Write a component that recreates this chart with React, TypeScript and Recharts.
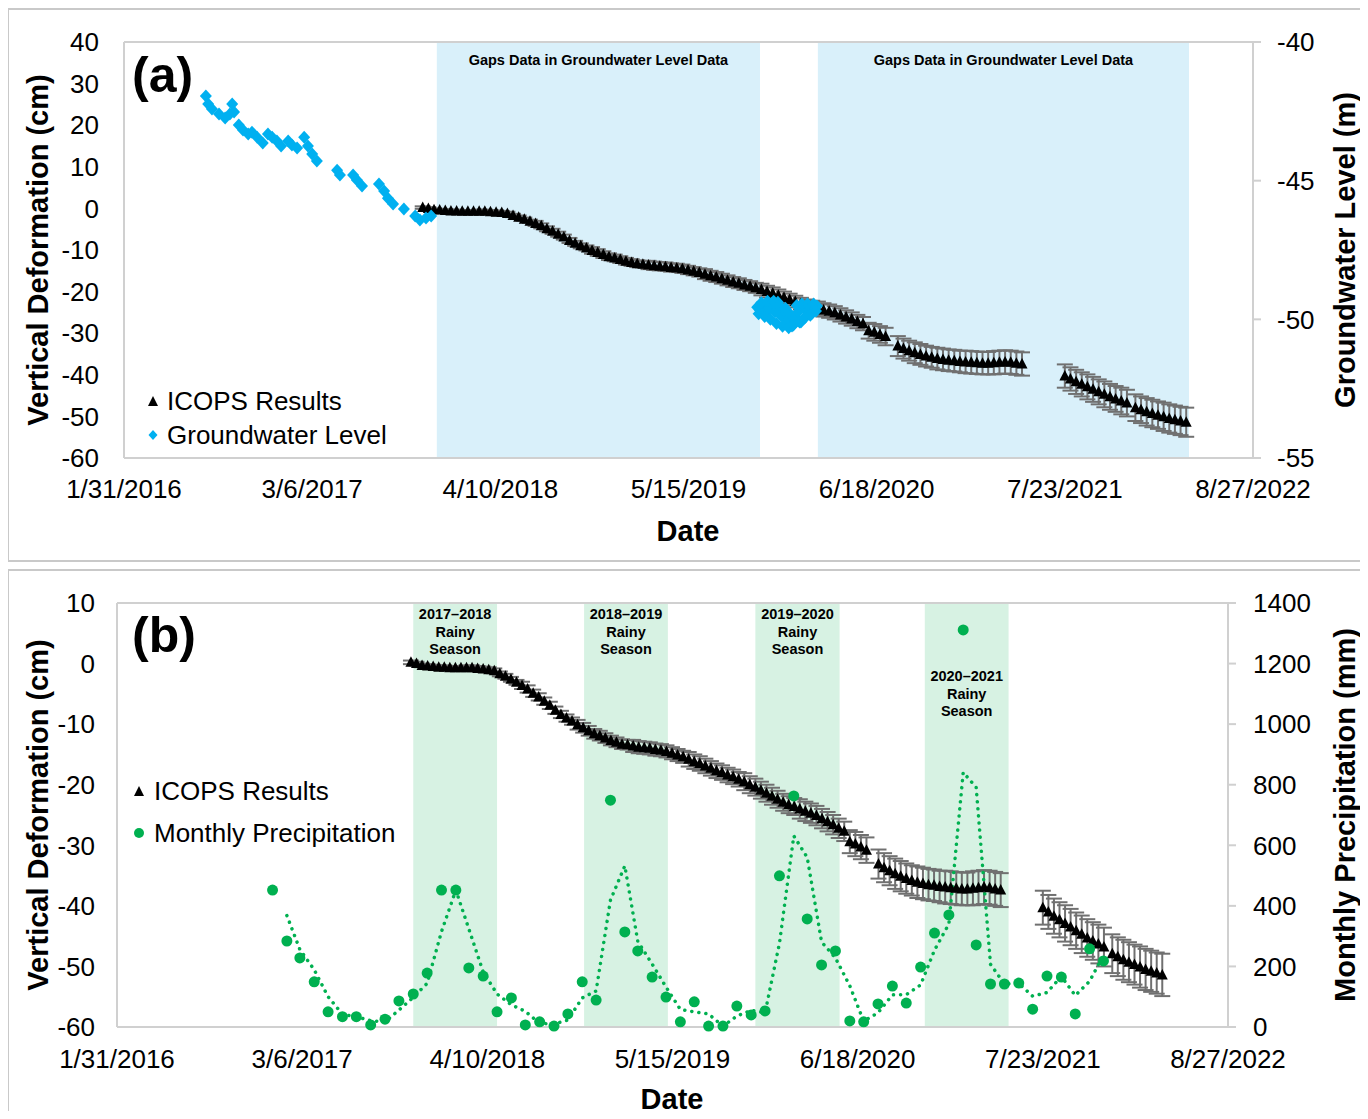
import React from 'react';
import {
  ComposedChart,
  Scatter,
  Line,
  XAxis,
  YAxis,
  ErrorBar,
  ReferenceArea,
  ReferenceLine,
  Legend,
} from 'recharts';

const FONT = '"Liberation Sans", Arial, Helvetica, sans-serif';

// date axis labels (Excel date axis, 400-day major unit)
const dateTickLabels = ['1/31/2016', '3/6/2017', '4/10/2018', '5/15/2019', '6/18/2020', '7/23/2021', '8/27/2022'];

// ICOPS vertical deformation (cm) - 12-day acquisitions, five runs of images
const icopsRevisitDays = 12;
const icopsRunStarts = ['2017-10-27', '2020-06-01', '2020-08-02', '2021-07-23', '2021-12-20'];
const icopsDeformation = [
  [
    0.2, 0.0, -0.3, -0.4, -0.5, -0.6, -0.6, -0.7, -0.7, -0.7,
    -0.7, -0.7, -0.8, -0.9, -1.0, -1.2, -1.7, -2.1, -2.6, -3.1,
    -3.6, -4.2, -4.9, -5.5, -6.2, -6.9, -7.7, -8.4, -9.0, -9.5,
    -10.1, -10.6, -11.1, -11.6, -11.9, -12.3, -12.7, -13.0, -13.3, -13.4,
    -13.6, -13.8, -13.9, -14.0, -14.2, -14.3, -14.5, -14.8, -15.1, -15.4,
    -15.8, -16.2, -16.5, -16.9, -17.3, -17.7, -18.0, -18.4, -18.7, -19.1,
    -19.5, -20.0, -20.4, -20.9, -21.4, -21.9, -22.4, -22.9, -23.3, -23.6,
    -24.0, -24.4, -24.7, -25.1, -25.6, -26.1, -26.6, -27.2, -27.7,
  ],
  [-29.4, -29.8, -30.3, -30.8],
  [
    -33.1, -33.7, -34.2, -34.7, -35.1, -35.5, -35.8, -36.1, -36.3, -36.5, -36.6, -36.8,
    -36.9, -37.0, -37.1, -37.2, -37.2, -37.1, -37.0, -36.9, -37.0, -37.2, -37.4,
  ],
  [-40.3, -41.0, -41.7, -42.3, -42.9, -43.5, -44.1, -44.7, -45.3, -45.8, -46.3, -46.8],
  [-47.9, -48.4, -48.9, -49.3, -49.7, -50.1, -50.5, -50.8, -51.1, -51.4],
];
const icopsError = [
  [
    0.3, 0.3, 0.3, 0.3, 0.3, 0.3, 0.3, 0.3, 0.3, 0.3,
    0.4, 0.4, 0.4, 0.4, 0.4, 0.4, 0.4, 0.4, 0.4, 0.4,
    0.6, 0.6, 0.6, 0.6, 0.6, 0.6, 0.6, 0.6, 0.6, 0.6,
    0.8, 0.8, 0.8, 0.8, 0.8, 0.8, 0.8, 0.8, 0.8, 0.8,
    1.0, 1.0, 1.0, 1.0, 1.0, 1.0, 1.0, 1.0, 1.0, 1.0,
    1.2, 1.2, 1.2, 1.2, 1.2, 1.2, 1.2, 1.2, 1.2, 1.2,
    1.4, 1.4, 1.4, 1.4, 1.4, 1.4, 1.4, 1.4, 1.4, 1.4,
    1.6, 1.6, 1.6, 1.6, 1.6, 1.6, 1.6, 1.6, 1.6,
  ],
  [1.9, 2.0, 2.0, 2.1],
  [
    2.4, 2.4, 2.4, 2.5, 2.5, 2.5, 2.5, 2.6, 2.6, 2.6, 2.6, 2.6,
    2.7, 2.7, 2.7, 2.7, 2.7, 2.8, 2.8, 2.8, 2.8, 2.8, 2.8,
  ],
  [2.8, 2.8, 2.9, 2.9, 3.0, 3.0, 3.0, 3.1, 3.1, 3.1, 3.2, 3.2],
  [3.2, 3.2, 3.3, 3.3, 3.3, 3.4, 3.4, 3.4, 3.4, 3.5],
];

// groundwater level (m)
const gwDates = [
  '2016-07-23', '2016-07-28', '2016-08-05', '2016-08-20', '2016-09-02', '2016-09-12', '2016-09-17',
  '2016-09-21', '2016-10-01', '2016-10-10', '2016-10-21', '2016-10-29', '2016-11-09', '2016-11-21',
  '2016-12-02', '2016-12-11', '2016-12-21', '2016-12-30', '2017-01-14', '2017-01-22', '2017-02-02',
  '2017-02-17', '2017-02-25', '2017-03-06', '2017-03-16', '2017-04-28', '2017-05-04', '2017-06-01',
  '2017-06-09', '2017-06-20', '2017-07-26', '2017-08-06', '2017-08-14', '2017-08-25', '2017-09-17',
  '2017-10-11', '2017-10-21', '2017-11-03', '2017-11-14',
  '2019-10-08', '2019-10-14', '2019-10-20', '2019-10-27', '2019-11-02', '2019-11-09', '2019-11-15',
  '2019-11-21', '2019-11-28', '2019-12-04', '2019-12-11', '2019-12-17', '2019-12-21', '2019-12-28',
  '2020-01-03', '2020-01-09', '2020-01-14', '2020-01-20', '2020-01-26', '2020-02-02', '2020-02-08',
  '2020-02-12',
  '2019-10-11', '2019-10-17', '2019-10-24', '2019-10-30', '2019-11-05', '2019-11-12', '2019-11-18',
  '2019-11-24', '2019-12-01', '2019-12-07', '2019-12-14', '2019-12-24', '2019-12-31', '2020-01-06',
  '2020-01-11', '2020-01-17', '2020-01-23', '2020-01-29', '2020-02-05', '2020-02-10',
];
const gwLevel = [
  -41.95, -42.24, -42.42, -42.6, -42.74, -42.6, -42.24,
  -42.52, -42.99, -43.17, -43.32, -43.25, -43.43, -43.64,
  -43.32, -43.43, -43.57, -43.75, -43.57, -43.71, -43.82,
  -43.43, -43.75, -44.04, -44.29, -44.62, -44.8, -44.8,
  -44.98, -45.19, -45.12, -45.37, -45.63, -45.84, -46.02,
  -46.27, -46.42, -46.35, -46.27,
  -49.56, -49.66, -49.48, -49.74, -49.59, -49.41, -49.74,
  -49.38, -49.88, -49.66, -50.03, -49.81, -50.24, -49.95,
  -49.74, -50.1, -49.56, -49.88, -49.66, -49.77, -49.59,
  -49.52,
  -49.8, -49.4, -49.9, -49.35, -50.0, -49.35, -50.15,
  -49.5, -50.25, -49.6, -50.3, -50.2, -49.5, -50.1,
  -49.45, -49.95, -49.45, -49.85, -49.45, -49.7,
];

// monthly precipitation (mm), Jan..Dec
const precipYears = [2017, 2018, 2019, 2020, 2021];
const precipMonthly = [
  [452, 284, 228, 149, 50, 34, 34, 7, 26, 86, 109, 178],
  [452, 452, 195, 168, 50, 96, 7, 17, 3, 43, 149, 89],
  [749, 314, 251, 165, 99, 17, 83, 3, 3, 69, 40, 53],
  [499, 763, 357, 205, 251, 20, 17, 76, 135, 79, 198, 310],
  [370, 1311, 271, 142, 142, 145, 59, 168, 165, 43, 258, 218],
];
// dotted moving-average trendline (mm), from Feb 2017
const precipTrend = [
  [368, 256, 189, 100, 42, 34, 21, 17, 56, 98, 144],
  [315, 452, 324, 182, 109, 73, 52, 12, 10, 23, 96, 119],
  [419, 532, 283, 208, 132, 58, 50, 43, 3, 36, 55, 47],
  [276, 631, 560, 281, 228, 136, 19, 47, 106, 107, 139, 254],
  [340, 841, 791, 207, 142, 144, 102, 114, 167, 104, 151, 238],
];

const gapBands = [['2017-11-26', '2019-10-14'], ['2020-02-14', '2022-04-13']];
const rainyBands = [
  ['2017-11-01', '2018-05-01'],
  ['2018-11-05', '2019-05-05'],
  ['2019-11-10', '2020-05-10'],
  ['2020-11-10', '2021-05-10'],
];
const rainyLabels = ['2017–2018', '2018–2019', '2019–2020', '2020–2021'];

const DAY = 86400000;
const isoToT = (s: string) => {
  const [y, m, d] = s.split('-').map(Number);
  return Date.UTC(y, m - 1, d);
};
const usToT = (s: string) => {
  const [m, d, y] = s.split('/').map(Number);
  return Date.UTC(y, m - 1, d);
};
const fmtDate = (t: number) => {
  const d = new Date(t);
  return `${d.getUTCMonth() + 1}/${d.getUTCDate()}/${d.getUTCFullYear()}`;
};

const xTicks = dateTickLabels.map(usToT);
const xDomain = [xTicks[0], xTicks[xTicks.length - 1]];

const icopsData = icopsRunStarts.flatMap((start, r) =>
  icopsDeformation[r].map((v, i) => ({
    t: isoToT(start) + i * icopsRevisitDays * DAY,
    v,
    err: icopsError[r][i],
  }))
);
const gwData = gwDates.map((d, i) => ({ t: isoToT(d), v: gwLevel[i] }));
const precipData = precipYears.flatMap((y, r) =>
  precipMonthly[r].map((v, m) => ({ t: Date.UTC(y, m, 1), v }))
);
const trendData = precipYears.flatMap((y, r) => {
  const first = 12 - precipTrend[r].length;
  return precipTrend[r].map((v, i) => ({ t: Date.UTC(y, first + i, 1), v }));
});

const TRI = '#000000';
const GW = '#00B0F0';
const RAIN = '#00B050';
const FRAME = '#d0d0d0';
const tickStyle = { fill: '#000', fontSize: 26, fontFamily: FONT };

function TriangleMark(p: any) {
  const { cx, cy } = p;
  if (cx == null || cy == null) return null;
  return <polygon points={`${cx},${cy - 6} ${cx - 5.5},${cy + 4.5} ${cx + 5.5},${cy + 4.5}`} fill={TRI} />;
}
function DiamondMark(p: any) {
  const { cx, cy } = p;
  if (cx == null || cy == null) return null;
  return <polygon points={`${cx},${cy - 6.5} ${cx + 6},${cy} ${cx},${cy + 6.5} ${cx - 6},${cy}`} fill={GW} />;
}
function CircleMark(p: any) {
  const { cx, cy } = p;
  if (cx == null || cy == null) return null;
  return <circle cx={cx} cy={cy} r={5.5} fill={RAIN} />;
}

function LegendMarker({ type }: { type: string }) {
  if (type === 'triangle') return <polygon points="7,2 2,12 12,12" fill={TRI} />;
  if (type === 'diamond') return <polygon points="7,2 11.5,7 7,12 2.5,7" fill={GW} />;
  return <circle cx={7} cy={7} r={5} fill={RAIN} />;
}

function LegendBox(props: any) {
  const { payload = [], rowHeight, gap, order = [] } = props;
  const items = payload
    .filter((p: any) => p.type !== 'none')
    .sort((a: any, b: any) => order.indexOf(a.value) - order.indexOf(b.value));
  return (
    <div style={{ fontFamily: FONT, fontSize: 26, color: '#000', lineHeight: 1 }}>
      {items.map((p: any) => (
        <div key={p.value} style={{ display: 'flex', alignItems: 'center', height: rowHeight, whiteSpace: 'nowrap' }}>
          <svg width={14} height={14}>
            <LegendMarker type={p.type} />
          </svg>
          <span style={{ marginLeft: gap }}>{p.value}</span>
        </div>
      ))}
    </div>
  );
}

function BandLabel(props: any) {
  const { viewBox, lines, topPad } = props;
  if (!viewBox) return null;
  const cx = viewBox.x + viewBox.width / 2;
  return (
    <text x={cx} y={viewBox.y + topPad} textAnchor="middle" fontFamily={FONT} fontWeight="bold" fontSize={14.5} fill="#000">
      {lines.map((l: string, i: number) => (
        <tspan key={i} x={cx} dy={i === 0 ? 0 : 17.5}>
          {l}
        </tspan>
      ))}
    </text>
  );
}

function Titles({ w, h, panel, left, right, leftX, rightX, midY, dateX, dateY }: any) {
  const bold = { fontFamily: FONT, fontWeight: 'bold' as const, fill: '#000' };
  return (
    <svg width={w} height={h} style={{ position: 'absolute', left: 0, top: 0, pointerEvents: 'none' }}>
      <text x={124} y={84} fontSize={50} {...bold}>
        {panel}
      </text>
      <text transform={`translate(${leftX},${midY}) rotate(-90)`} textAnchor="middle" dominantBaseline="central" fontSize={29} {...bold}>
        {left}
      </text>
      <text transform={`translate(${rightX},${midY}) rotate(-90)`} textAnchor="middle" dominantBaseline="central" fontSize={29} {...bold}>
        {right}
      </text>
      <text x={dateX} y={dateY} textAnchor="middle" fontSize={29} {...bold}>
        Date
      </text>
    </svg>
  );
}

function PanelA() {
  const W = 1360;
  const H = 560;
  return (
    <div style={{ position: 'relative', width: W, height: H }}>
      <ComposedChart width={W} height={H} margin={{ top: 34, right: 0, bottom: 70, left: 0 }}>
        {gapBands.map(([a, b], i) => (
          <ReferenceArea
            key={i}
            yAxisId="left"
            x1={isoToT(a)}
            x2={isoToT(b)}
            fill="#d9f0fa"
            fillOpacity={1}
            stroke="none"
            ifOverflow="visible"
            label={<BandLabel lines={['Gaps Data in Groundwater Level Data']} topPad={23} />}
          />
        ))}
        <XAxis
          type="number"
          dataKey="t"
          domain={xDomain}
          ticks={xTicks}
          interval={0}
          tickFormatter={fmtDate}
          allowDataOverflow
          height={40}
          tickLine={false}
          tickSize={0}
          tickMargin={22}
          axisLine={{ stroke: FRAME, strokeWidth: 2 }}
          tick={tickStyle}
        />
        <YAxis
          yAxisId="left"
          domain={[-60, 40]}
          ticks={[-60, -50, -40, -30, -20, -10, 0, 10, 20, 30, 40]}
          interval={0}
          width={116}
          tickLine={false}
          tickSize={0}
          tickMargin={25}
          axisLine={{ stroke: FRAME, strokeWidth: 2 }}
          tick={tickStyle}
        />
        <YAxis
          yAxisId="right"
          orientation="right"
          domain={[-55, -40]}
          ticks={[-55, -50, -45, -40]}
          interval={0}
          width={115}
          tickSize={8}
          tickMargin={16}
          tickLine={{ stroke: FRAME, strokeWidth: 2 }}
          axisLine={{ stroke: FRAME, strokeWidth: 2 }}
          tick={tickStyle}
        />
        <ReferenceLine yAxisId="left" y={40} stroke={FRAME} strokeWidth={2} ifOverflow="visible" />
        <Scatter
          name="ICOPS Results"
          data={icopsData}
          yAxisId="left"
          dataKey="v"
          fill={TRI}
          legendType="triangle"
          shape={(p: any) => <TriangleMark {...p} />}
          isAnimationActive={false}
        >
          <ErrorBar dataKey="err" direction="y" width={8} stroke="#707070" strokeWidth={2} isAnimationActive={false} />
        </Scatter>
        <Scatter
          name="Groundwater Level"
          data={gwData}
          yAxisId="right"
          dataKey="v"
          fill={GW}
          legendType="diamond"
          shape={(p: any) => <DiamondMark {...p} />}
          isAnimationActive={false}
        />
        <Legend
          layout="vertical"
          align="center"
          verticalAlign="middle"
          wrapperStyle={{ left: 138, top: 376, width: 320 }}
          content={<LegendBox rowHeight={34} gap={7} order={['ICOPS Results', 'Groundwater Level']} />}
        />
      </ComposedChart>
      <Titles
        w={W}
        h={H}
        panel="(a)"
        left="Vertical Deformation (cm)"
        right="Groundwater Level (m)"
        leftX={30}
        rightX={1337}
        midY={242}
        dateX={680}
        dateY={533}
      />
    </div>
  );
}

function PanelB() {
  const W = 1360;
  const H = 551;
  return (
    <div style={{ position: 'relative', width: W, height: H }}>
      <ComposedChart width={W} height={H} margin={{ top: 35, right: 0, bottom: 52, left: 0 }}>
        {rainyBands.map(([a, b], i) => (
          <ReferenceArea
            key={i}
            yAxisId="left"
            x1={isoToT(a)}
            x2={isoToT(b)}
            fill="#d7f2e3"
            fillOpacity={1}
            stroke="none"
            ifOverflow="visible"
            label={<BandLabel lines={[rainyLabels[i], 'Rainy', 'Season']} topPad={i === 3 ? 78 : 16} />}
          />
        ))}
        <XAxis
          type="number"
          dataKey="t"
          domain={xDomain}
          ticks={xTicks}
          interval={0}
          tickFormatter={fmtDate}
          allowDataOverflow
          height={40}
          tickLine={false}
          tickSize={0}
          tickMargin={23}
          axisLine={{ stroke: FRAME, strokeWidth: 2 }}
          tick={tickStyle}
        />
        <YAxis
          yAxisId="left"
          domain={[-60, 10]}
          ticks={[-60, -50, -40, -30, -20, -10, 0, 10]}
          interval={0}
          width={109}
          tickLine={false}
          tickSize={0}
          tickMargin={22}
          axisLine={{ stroke: FRAME, strokeWidth: 2 }}
          tick={tickStyle}
        />
        <YAxis
          yAxisId="right"
          orientation="right"
          domain={[0, 1400]}
          ticks={[0, 200, 400, 600, 800, 1000, 1200, 1400]}
          interval={0}
          width={140}
          tickSize={8}
          tickMargin={17}
          tickLine={{ stroke: FRAME, strokeWidth: 2 }}
          axisLine={{ stroke: FRAME, strokeWidth: 2 }}
          tick={tickStyle}
        />
        <ReferenceLine yAxisId="left" y={10} stroke={FRAME} strokeWidth={2} ifOverflow="visible" />
        <Scatter
          name="ICOPS Results"
          data={icopsData}
          yAxisId="left"
          dataKey="v"
          fill={TRI}
          legendType="triangle"
          shape={(p: any) => <TriangleMark {...p} />}
          isAnimationActive={false}
        >
          <ErrorBar dataKey="err" direction="y" width={8} stroke="#707070" strokeWidth={2} isAnimationActive={false} />
        </Scatter>
        <Scatter
          name="Monthly Precipitation"
          data={precipData}
          yAxisId="right"
          dataKey="v"
          fill={RAIN}
          legendType="circle"
          shape={(p: any) => <CircleMark {...p} />}
          isAnimationActive={false}
        />
        <Line
          data={trendData}
          dataKey="v"
          yAxisId="right"
          type="linear"
          stroke={RAIN}
          strokeWidth={3.5}
          strokeDasharray="0.1 7"
          strokeLinecap="round"
          dot={false}
          activeDot={false}
          legendType="none"
          isAnimationActive={false}
        />
        <Legend
          layout="vertical"
          align="center"
          verticalAlign="middle"
          wrapperStyle={{ left: 124, top: 202, width: 320 }}
          content={<LegendBox rowHeight={42} gap={8} order={['ICOPS Results', 'Monthly Precipitation']} />}
        />
      </ComposedChart>
      <Titles
        w={W}
        h={H}
        panel="(b)"
        left="Vertical Deformation (cm)"
        right="Monthly Precipitation (mm)"
        leftX={30}
        rightX={1337}
        midY={247}
        dateX={664}
        dateY={541}
      />
    </div>
  );
}

export default function App() {
  const box = { position: 'absolute' as const, left: -1, width: 1356, border: '2px solid #c9c9c9', boxSizing: 'border-box' as const };
  return (
    <div style={{ position: 'relative', width: 1360, height: 1111, marginBottom: -8, overflow: 'hidden', fontFamily: FONT }}>
      <div style={{ ...box, top: 0, height: 554 }} />
      <div style={{ ...box, top: 561, height: 552 }} />
      <div style={{ position: 'absolute', left: 0, top: 0 }}>
        <PanelA />
      </div>
      <div style={{ position: 'absolute', left: 0, top: 560 }}>
        <PanelB />
      </div>
    </div>
  );
}
